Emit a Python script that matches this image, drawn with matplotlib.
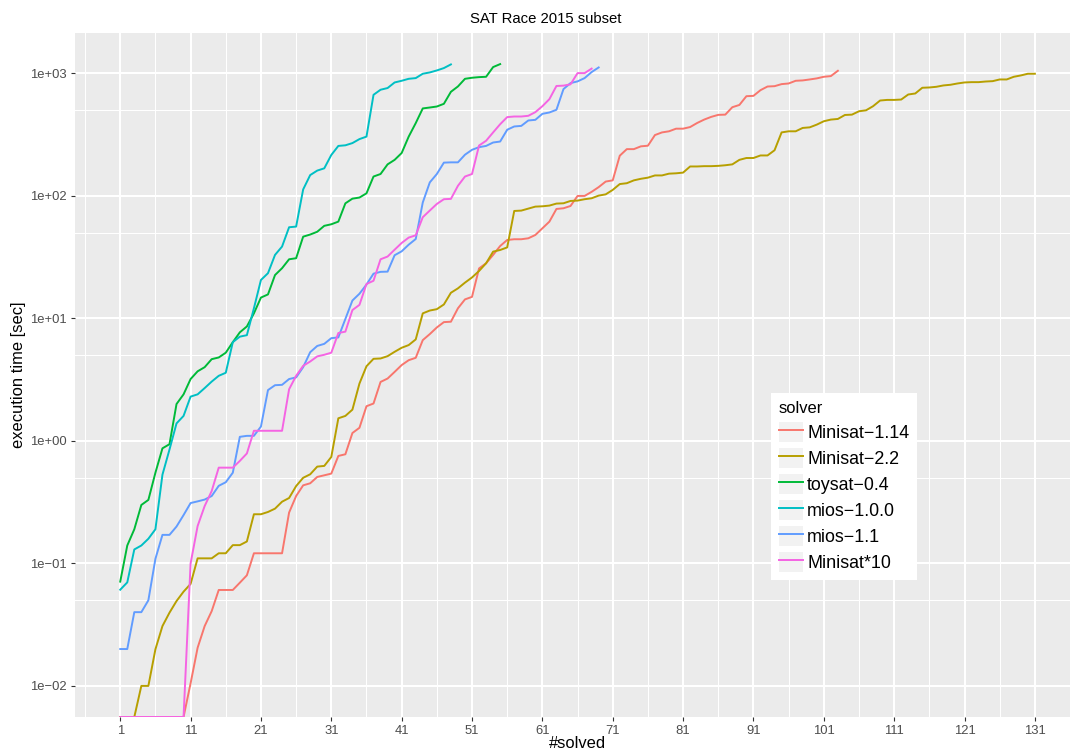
import numpy as np
import matplotlib
matplotlib.use("Agg")
import matplotlib.pyplot as plt
from matplotlib.ticker import FixedLocator, FixedFormatter, NullFormatter
from matplotlib.legend_handler import HandlerLine2D
from matplotlib.patches import Rectangle
from matplotlib.lines import Line2D

plt.rcParams['font.family'] = ['Liberation Sans', 'DejaVu Sans']

# ---------------- data (execution time in sec, 0 = below the scale) ----------------
solvers = ["Minisat\u22121.14", "Minisat\u22122.2", "toysat\u22120.4",
           "mios\u22121.0.0", "mios\u22121.1", "Minisat*10"]
colors = ["#F8766D", "#B79F00", "#00BA38", "#00BFC4", "#619CFF", "#F564E3"]

minisat_1_14 = [0, 0, 0, 0, 0, 0, 0, 0, 0, 0,
                0.0105, 0.0205, 0.0308, 0.0408, 0.0607, 0.0607, 0.0607, 0.0696, 0.080, 0.121,
                0.121, 0.121, 0.121, 0.121, 0.26, 0.355, 0.434, 0.451, 0.508, 0.524,
                0.541, 0.754, 0.778, 1.16, 1.28, 1.92, 2.02, 3.03, 3.23, 3.66,
                4.16, 4.56, 4.77, 6.65, 7.45, 8.44, 9.33, 9.4, 12.1, 14.3,
                15.0, 25.6, 28.2, 33, 39, 43.7, 44.3, 44.3, 45.1, 48,
                54.4, 61.7, 78.3, 79.3, 82.8, 100, 100, 108, 118, 131,
                134, 213, 241, 241, 254, 257, 314, 330, 337, 354,
                354, 365, 394, 420, 442, 459, 461, 530, 553, 652,
                656, 730, 782, 787, 818, 828, 871, 877, 893, 911,
                939, 951, 1051]

minisat_2_2 = [0, 0, 0, 0.01, 0.01, 0.0199, 0.0308, 0.0396, 0.0493, 0.0588,
               0.068, 0.11, 0.11, 0.11, 0.121, 0.121, 0.141, 0.141, 0.151, 0.252,
               0.252, 0.263, 0.28, 0.319, 0.342, 0.428, 0.50, 0.534, 0.617, 0.625,
               0.74, 1.53, 1.60, 1.80, 2.94, 4.07, 4.68, 4.71, 4.92, 5.34,
               5.76, 6.06, 6.74, 11.0, 11.6, 11.9, 13.0, 16.2, 17.6, 19.6,
               21.6, 24.4, 28.2, 35.1, 36.2, 38.0, 75.4, 75.9, 78.8, 81.8,
               82.3, 83.4, 86.6, 87.1, 91, 91.6, 94, 95.7, 100.6, 103,
               112, 125, 127, 134, 138, 141, 147, 147, 152, 153,
               155, 174, 174, 175, 175, 176, 178, 181, 197, 204,
               204, 214, 214, 236, 330, 337, 337, 359, 363, 382,
               407, 420, 425, 458, 461, 491, 500, 540, 601, 608,
               608, 612, 673, 686, 764, 768, 778, 798, 808, 828,
               844, 849, 849, 859, 865, 893, 893, 939, 963, 994,
               994]

toysat_0_4 = [0.071, 0.14, 0.19, 0.30, 0.33, 0.55, 0.87, 0.94, 2.0, 2.4,
              3.2, 3.7, 4.0, 4.65, 4.8, 5.25, 6.4, 7.7, 8.6, 11.0,
              14.8, 15.7, 22.6, 25.7, 30.4, 31, 46.5, 48.4, 51, 57,
              58.7, 61.7, 87, 95, 97, 105, 144, 151, 181, 197,
              224, 305, 393, 518, 527, 537, 565, 708, 783, 904,
              922, 933, 939, 1127, 1192]

mios_1_0_0 = [0.061, 0.070, 0.13, 0.14, 0.159, 0.19, 0.53, 0.85, 1.39, 1.6,
              2.3, 2.4, 2.7, 3.05, 3.4, 3.6, 6.4, 7.1, 7.3, 12.1,
              20.6, 23.4, 33, 38.6, 55.5, 56.2, 113, 148, 161, 168,
              216, 256, 259, 270, 291, 305, 669, 736, 760, 844,
              871, 904, 916, 994, 1019, 1058, 1106, 1185]

mios_1_1 = [0.020, 0.020, 0.040, 0.040, 0.050, 0.109, 0.171, 0.171, 0.20, 0.248,
            0.311, 0.321, 0.332, 0.355, 0.43, 0.46, 0.55, 1.08, 1.1, 1.1,
            1.31, 2.6, 2.85, 2.87, 3.2, 3.3, 4.0, 5.3, 5.96, 6.2,
            6.9, 7.0, 9.9, 14.0, 15.9, 18.9, 23.2, 24, 24.1, 32.8,
            35.3, 40, 44.5, 88.4, 129, 151, 187, 188, 188, 217,
            238, 250, 256, 273, 278, 347, 369, 373, 413, 418,
            468, 480, 505, 745, 834, 861, 916, 1026, 1119]

minisat_x10 = [0, 0, 0, 0, 0, 0, 0, 0, 0, 0,
               0.10, 0.202, 0.294, 0.39, 0.605, 0.605, 0.605, 0.687, 0.79, 1.21,
               1.21, 1.21, 1.21, 1.21, 2.64, 3.4, 4.1, 4.45, 4.9, 5.05,
               5.25, 7.6, 7.8, 11.7, 12.9, 19.1, 20.3, 30.4, 32, 36.4,
               41.3, 45.7, 47.7, 67, 76, 86, 94, 94.6, 121, 144,
               151, 258, 282, 330, 385, 440, 445, 445, 451, 483,
               540, 617, 790, 795, 815, 1006, 1006, 1095]

series = [minisat_1_14, minisat_2_2, toysat_0_4, mios_1_0_0, mios_1_1, minisat_x10]

x_ticks = [1, 11, 21, 31, 41, 51, 61, 71, 81, 91, 101, 111, 121, 131]
x_minor = [-4, 6, 16, 26, 36, 46, 56, 66, 76, 86, 96, 106, 116, 126, 136]
y_ticks = [1e-2, 1e-1, 1e0, 1e1, 1e2, 1e3]
y_tick_labels = ["1e\u221202", "1e\u221201", "1e+00", "1e+01", "1e+02", "1e+03"]
y_minor = [0.005, 0.05, 0.5, 5, 50, 500, 5000]

# ---------------- figure ----------------
W, H = 1071, 755
fig = plt.figure(figsize=(W / 100, H / 100), dpi=100)
fig.patch.set_facecolor("white")
ax = fig.add_axes([74.5 / W, 38 / H, (1080.6 - 74.5) / W, 684 / H])
ax.set_facecolor("#EBEBEB")
ax.set_yscale("log")

# ggplot-like limits (5% expansion, in log space for y)
pos = np.concatenate([np.asarray(s, float)[np.asarray(s, float) > 0] for s in series])
lo, hi = np.log10(pos.min()), np.log10(pos.max())
pad = 0.05 * (hi - lo)
ylo, yhi = 10 ** (lo - pad), 10 ** (hi + pad)
nmax = max(len(s) for s in series)
xpad = 0.05 * (nmax - 1)
ax.set_xlim(1 - xpad, nmax + xpad)
ax.set_ylim(ylo, yhi)

for name, vals, col in zip(solvers, series, colors):
    v = np.asarray(vals, float)
    n = np.arange(1, len(v) + 1)
    y = np.where(v > 0, v, ylo)   # zero times drawn on the panel edge, as -Inf in ggplot
    ax.plot(n, y, color=col, lw=1.4, label=name, solid_joinstyle="round")

ax.xaxis.set_major_locator(FixedLocator(x_ticks))
ax.xaxis.set_minor_locator(FixedLocator(x_minor))
ax.yaxis.set_major_locator(FixedLocator(y_ticks))
ax.yaxis.set_major_formatter(FixedFormatter(y_tick_labels))
ax.yaxis.set_minor_locator(FixedLocator(y_minor))
ax.yaxis.set_minor_formatter(NullFormatter())
ax.xaxis.set_minor_formatter(NullFormatter())

ax.set_axisbelow(True)
ax.grid(which="major", color="white", lw=1.45)
ax.grid(which="minor", color="white", lw=0.75)
for s in ax.spines.values():
    s.set_visible(False)
ax.tick_params(which="major", length=3.0, width=0.8, color="#333333",
               labelcolor="#4D4D4D", labelsize=9.4, pad=2.6)
ax.tick_params(which="minor", length=0)

ax.set_xlabel("#solved", fontsize=11.9, color="black")
ax.xaxis.set_label_coords(577.5 / W, 1 - 736.5 / H, transform=fig.transFigure)
ax.set_ylabel("execution time [sec]", fontsize=11.9, color="black")
ax.yaxis.set_label_coords(26.5 / W, 1 - 375 / H, transform=fig.transFigure)

fig.text(545.5 / W, 1 - 23 / H, "SAT Race 2015 subset", ha="center", va="baseline",
         fontsize=10.7, color="black")


class KeyHandler(HandlerLine2D):
    def create_artists(self, legend, orig_handle, xdescent, ydescent, width, height,
                       fontsize, trans):
        bg = Rectangle((-xdescent, -ydescent), width, height, facecolor="#F2F2F2",
                       edgecolor="none", transform=trans)
        arts = super().create_artists(legend, orig_handle, xdescent, ydescent,
                                      width, height, fontsize, trans)
        return [bg] + list(arts)


leg = ax.legend(loc="upper left", bbox_to_anchor=(771 / W, 1 - 393 / H),
                bbox_transform=fig.transFigure, borderaxespad=0,
                title="solver", title_fontsize=11.9, fontsize=12.9,
                frameon=True, fancybox=False, framealpha=1,
                facecolor="white", edgecolor="white",
                borderpad=0.42, labelspacing=0.34, handlelength=1.34,
                handleheight=1.34, handletextpad=0.25, alignment="left",
                handler_map={Line2D: KeyHandler()})
leg.get_frame().set_linewidth(0)

fig.savefig("out.png", dpi=100, facecolor="white")
